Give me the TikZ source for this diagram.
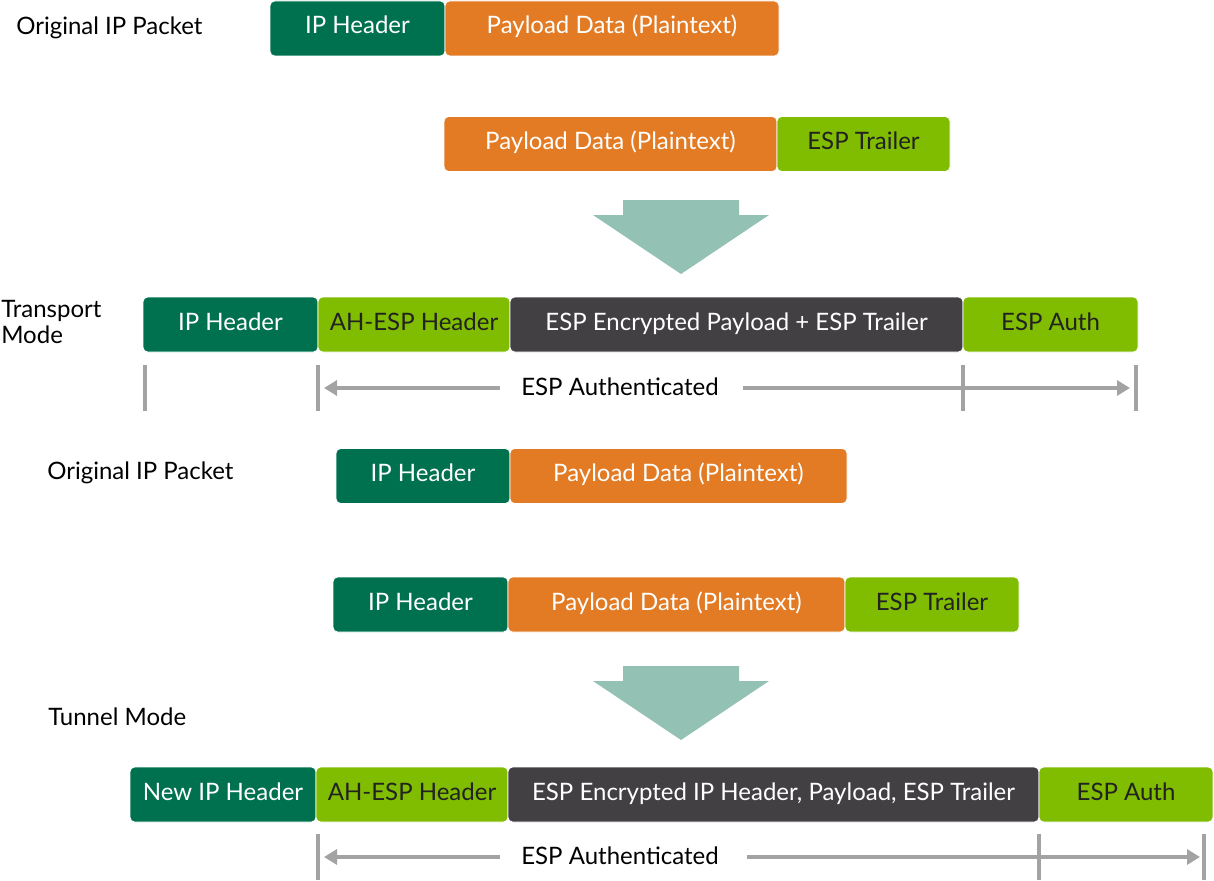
\documentclass[tikz,border=0pt]{standalone}
\usepackage{fontspec}
\setmainfont{Lato}
\usetikzlibrary{arrows.meta}
\definecolor{dgreen}{HTML}{00714F}
\definecolor{orng}{HTML}{E27B24}
\definecolor{lime}{HTML}{80BD00}
\definecolor{dgray}{HTML}{434044}
\definecolor{teal}{HTML}{93C2B5}
\definecolor{lgray}{HTML}{A3A3A3}
\definecolor{txt}{HTML}{222222}
\tikzset{
  pbox/.style={draw=white, line width=0.6pt, rounded corners=3.5pt, minimum height=55*0.75pt, inner sep=0pt, minimum width=#1*0.75pt, text height=13pt, text depth=4.75pt, font=\fontsize{18}{20}\selectfont},
  dg/.style={pbox=#1, fill=dgreen, text=white},
  og/.style={pbox=#1, fill=orng, text=white},
  lm/.style={pbox=#1, fill=lime, text=txt},
  gr/.style={pbox=#1, fill=dgray, text=white},
  lbl/.style={anchor=west, inner sep=0pt, font=\fontsize{18}{19.5}\selectfont, text=black, align=left},
  bar/.style={draw=lgray, line width=2.4pt},
  garrow/.style={draw=lgray, line width=2.4pt, -{Triangle[length=13*0.75pt,width=15*0.75pt]}},
  bigarrow/.style={fill=teal, draw=none},
  auth/.style={font=\fontsize{18}{20}\selectfont, inner sep=0pt, text height=13pt, text depth=0pt},
}
\begin{document}
\begin{tikzpicture}[x=0.75pt,y=-0.75pt]
\useasboundingbox (0,0) rectangle (1214,881);
% Row 1
\node[lbl] (l1) at (16,28) {Original IP Packet};
\node[dg=175] (r1a) at (357.5,28.5) {IP Header};
\node[og=334] (r1b) at (612,28.5) {Payload Data (Plaintext)};
% Row 2
\node[og=333] (r2a) at (610.5,144) {Payload Data (Plaintext)};
\node[lm=173] (r2b) at (863.5,144) {ESP Trailer};
% big arrow 1
\fill[bigarrow] (623,200) -- (739,200) -- (739,215) -- (769,215) -- (681,274) -- (593,215) -- (623,215) -- cycle;
% Transport mode
\node[lbl] (l3) at (1,322) {Transport\\Mode};
\node[dg=175] (r3a) at (230.5,324.5) {IP Header};
\node[lm=192] (r3b) at (414,324.5) {AH-ESP Header};
\node[gr=453] (r3c) at (736.5,324.5) {ESP Encrypted Payload + ESP Trailer};
\node[lm=175] (r3d) at (1050.5,324.5) {ESP Auth};
\draw[bar] (145,365) -- (145,411);
\draw[bar] (318,365) -- (318,411);
\draw[bar] (963,365) -- (963,411);
\draw[bar] (1136,365) -- (1136,411);
\node[auth] (t1) at (620,387) {ESP Authenticated};
\coordinate (t1l) at (500,388);
\coordinate (t1le) at (324,388);
\coordinate (t1r) at (743,388);
\coordinate (t1re) at (1130,388);
\draw[garrow] (t1l) -- (t1le);
\draw[garrow] (t1r) -- (t1re);
% Row 4
\node[lbl] (l4) at (47,473) {Original IP Packet};
\node[dg=174] (r4a) at (423,476) {IP Header};
\node[og=337] (r4b) at (678.5,476) {Payload Data (Plaintext)};
% Row 5
\node[dg=175] (r5a) at (420.5,604.5) {IP Header};
\node[og=337] (r5b) at (676.5,604.5) {Payload Data (Plaintext)};
\node[lm=174] (r5c) at (932,604.5) {ESP Trailer};
% big arrow 2
\fill[bigarrow] (623,666) -- (739,666) -- (739,681) -- (769,681) -- (681,740) -- (593,681) -- (623,681) -- cycle;
% Tunnel mode
\node[lbl] (l6) at (48,717) {Tunnel Mode};
\node[dg=186] (r6a) at (223,794.5) {New IP Header};
\node[lm=192] (r6b) at (412,794.5) {AH-ESP Header};
\node[gr=531] (r6c) at (773.5,794.5) {ESP Encrypted IP Header, Payload, ESP Trailer};
\node[lm=174] (r6d) at (1126,794.5) {ESP Auth};
\draw[bar] (318,834) -- (318,880);
\draw[bar] (1039,834) -- (1039,880);
\draw[bar] (1204,834) -- (1204,880);
\node[auth] (t2) at (620,856) {ESP Authenticated};
\coordinate (t2l) at (500,857);
\coordinate (t2le) at (324,857);
\coordinate (t2r) at (747,857);
\coordinate (t2re) at (1200,857);
\draw[garrow] (t2l) -- (t2le);
\draw[garrow] (t2r) -- (t2re);
\end{tikzpicture}
\end{document}
